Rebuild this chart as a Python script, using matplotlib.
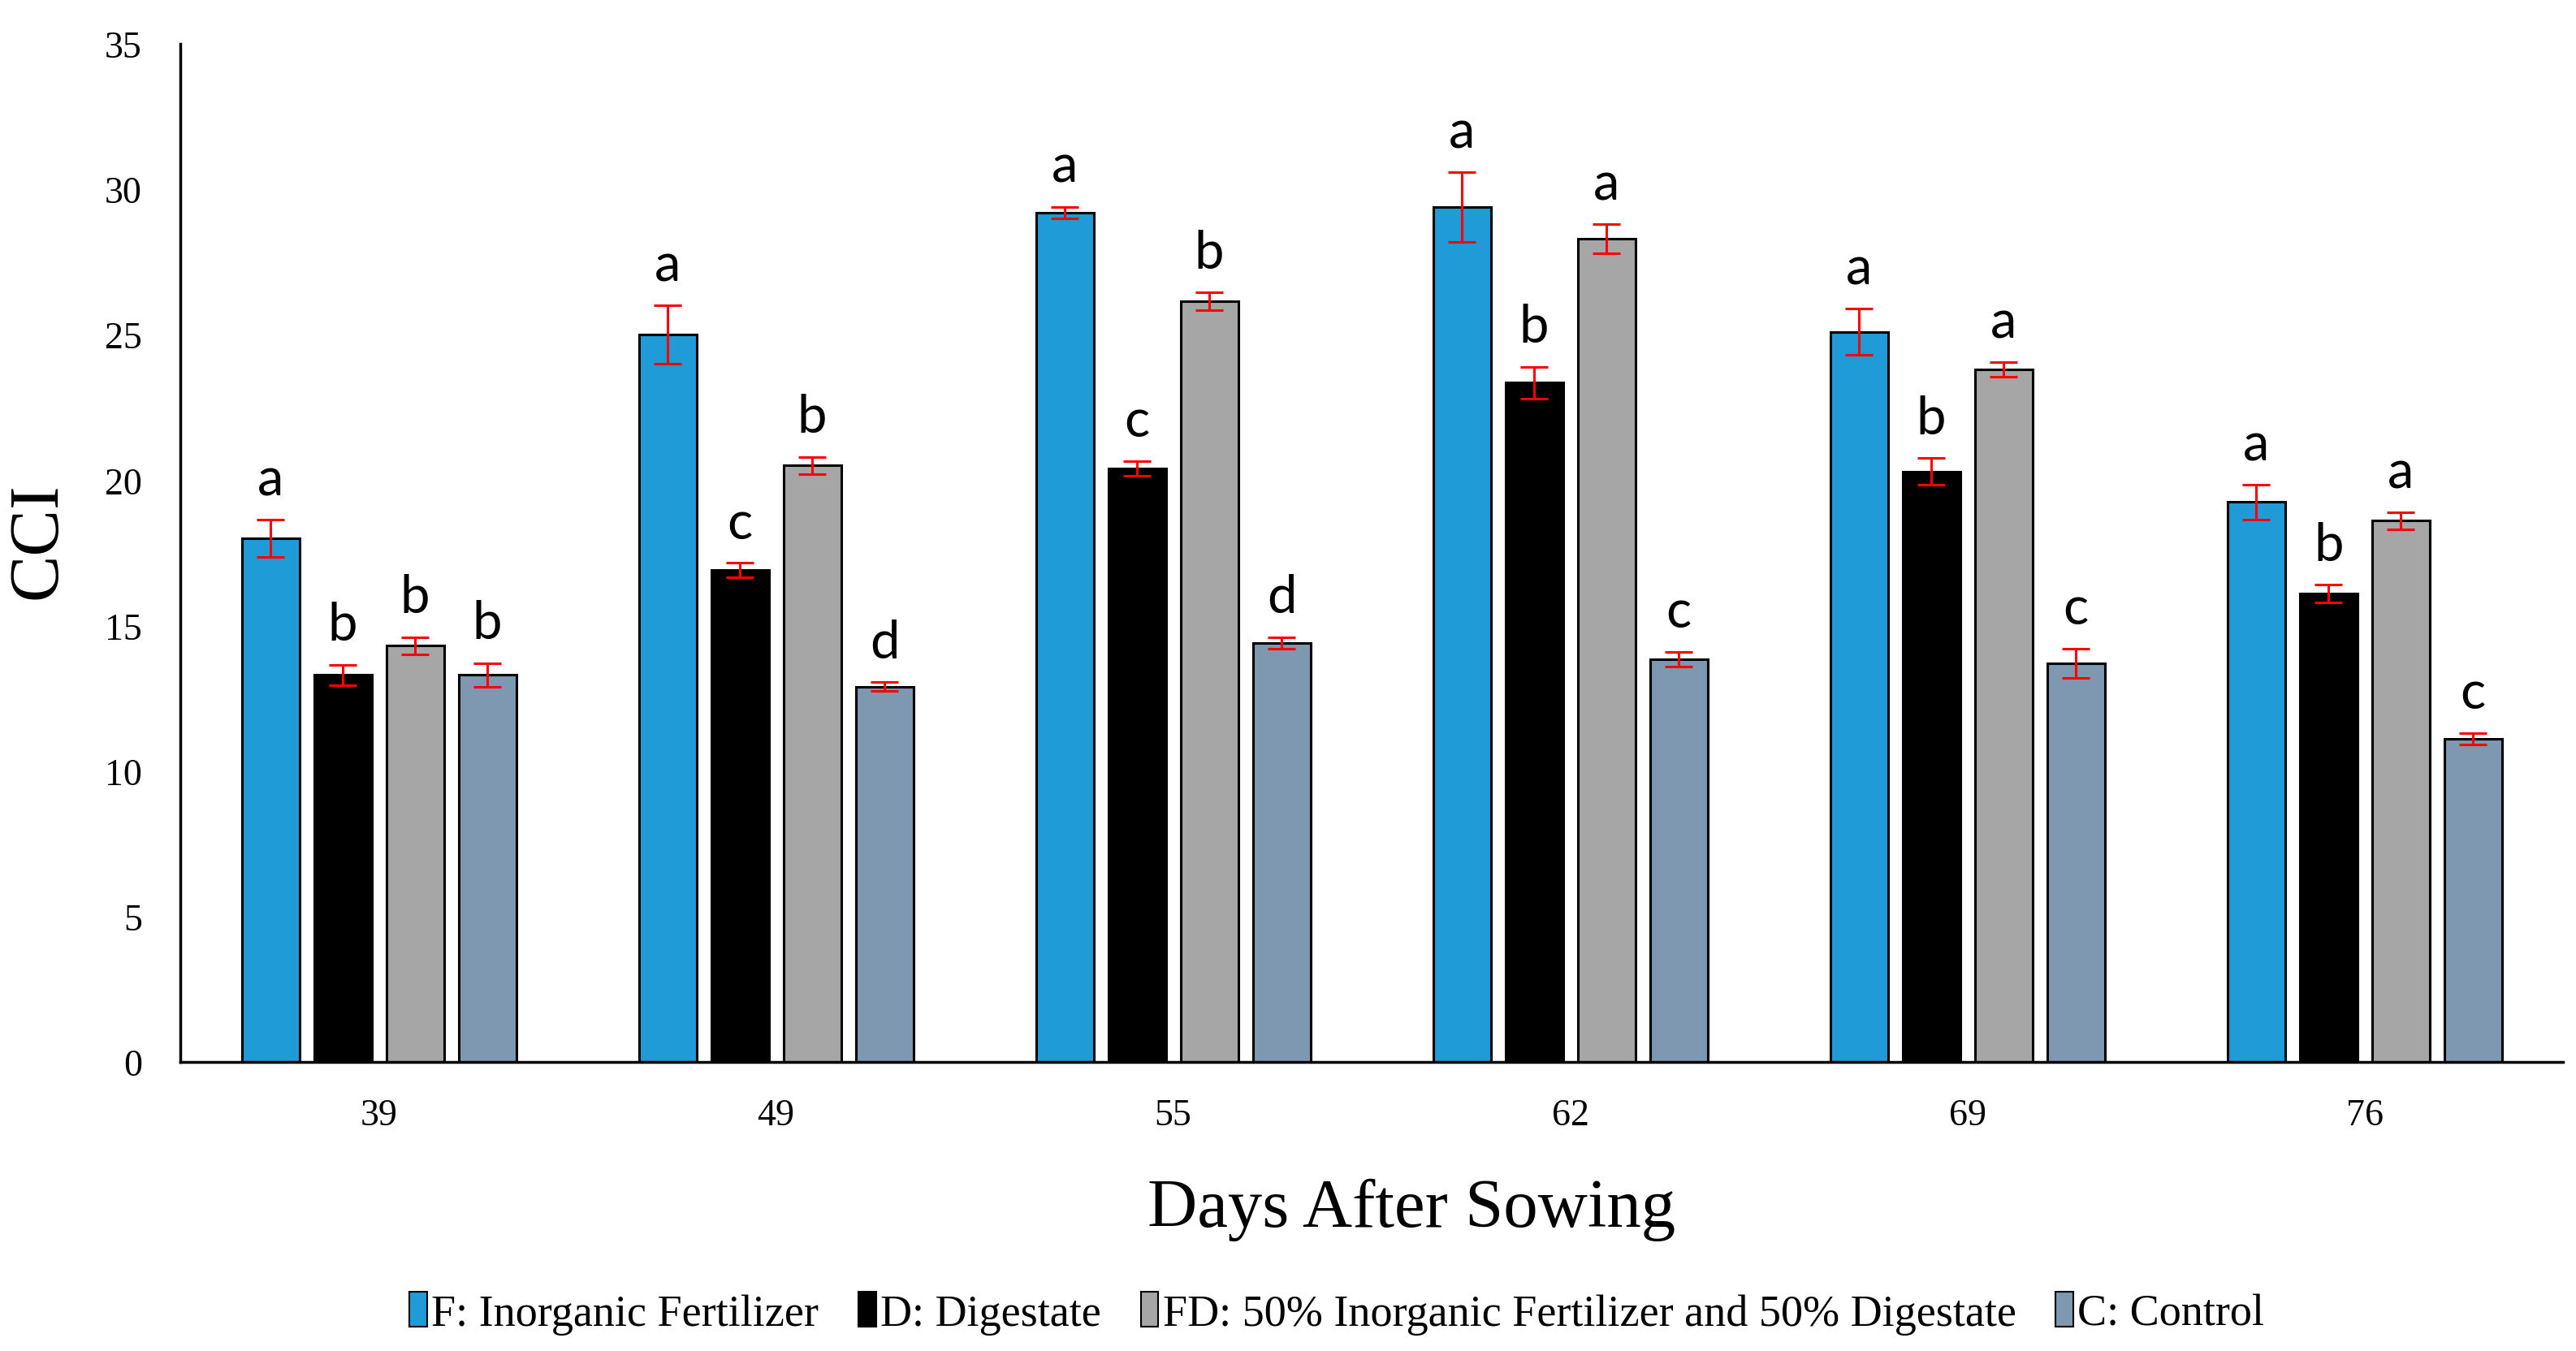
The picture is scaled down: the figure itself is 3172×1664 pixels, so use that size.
import numpy as np
import matplotlib
matplotlib.use("Agg")
import matplotlib.pyplot as plt
from matplotlib.patches import Patch

days = ["39", "49", "55", "62", "69", "76"]
series_names = ["F: Inorganic Fertilizer", "D: Digestate",
                "FD: 50% Inorganic Fertilizer and 50% Digestate", "C: Control"]
F_vals = [18.0, 25.0, 29.2, 29.4, 25.1, 19.25]
D_vals = [13.3, 16.9, 20.4, 23.35, 20.3, 16.1]
FD_vals = [14.3, 20.5, 26.15, 28.3, 23.8, 18.6]
C_vals = [13.3, 12.9, 14.4, 13.85, 13.7, 11.1]
F_err = [0.65, 1.0, 0.2, 1.2, 0.8, 0.6]
D_err = [0.35, 0.25, 0.25, 0.55, 0.45, 0.3]
FD_err = [0.3, 0.3, 0.3, 0.5, 0.25, 0.3]
C_err = [0.4, 0.15, 0.2, 0.25, 0.5, 0.2]
F_let = ["a", "a", "a", "a", "a", "a"]
D_let = ["b", "c", "c", "b", "b", "b"]
FD_let = ["b", "b", "b", "a", "a", "a"]
C_let = ["b", "d", "d", "c", "c", "c"]
colors = ["#1F9BD7", "#000000", "#A6A6A6", "#7E98B2"]

values = [F_vals, D_vals, FD_vals, C_vals]
errors = [F_err, D_err, FD_err, C_err]
letters = [F_let, D_let, FD_let, C_let]

plt.rcParams["font.family"] = ["Liberation Serif", "DejaVu Serif"]

fig = plt.figure(figsize=(31.72, 16.65), dpi=100)
ax = fig.add_axes([0.070, 0.214, 0.925, 0.753])

x = np.arange(len(days))
pitch = 0.182
width = 0.145
offsets = (np.arange(4) - 1.5) * pitch
for i in range(4):
    xs = x + offsets[i]
    ax.bar(xs, values[i], width=width, color=colors[i], edgecolor="black",
           linewidth=2.2, zorder=2)
    ax.errorbar(xs, values[i], yerr=errors[i], fmt="none", ecolor="red",
                elinewidth=2.2, capsize=12, capthick=2.2, zorder=3)
    for xi, v, e, l in zip(xs, values[i], errors[i], letters[i]):
        ax.annotate(l, (xi, v + e), xytext=(0, 22), textcoords="offset points",
                    ha="center", va="baseline", fontsize=47, family="Lato")

ax.set_xlim(-0.5, 5.5)
ax.set_ylim(0, 35)
ax.set_yticks(np.arange(0, 36, 5))
ax.set_xticks(x)
ax.set_xticklabels(days)
for s in ["top", "right"]:
    ax.spines[s].set_visible(False)
ax.spines["left"].set_linewidth(2.5)
ax.spines["bottom"].set_linewidth(2.5)
ax.tick_params(axis="both", length=0, labelsize=33)
ax.tick_params(axis="y", pad=34)
ax.tick_params(axis="x", pad=32)

fig.text(0.015, 0.600, "CCI", rotation=90, ha="center", va="center",
         fontsize=62)
fig.text(0.548, 0.105, "Days After Sowing", ha="center", va="center",
         fontsize=61)

handles = [Patch(facecolor=c, edgecolor="black", linewidth=1.5) for c in colors]
leg = fig.legend(handles, series_names, loc="center", bbox_to_anchor=(0.519, 0.028),
                 ncol=4, frameon=False, handlelength=0.4, handleheight=0.85,
                 handletextpad=0.1, columnspacing=0.9, fontsize=39)
for t in leg.get_texts():
    t.set_fontfamily(["Liberation Serif", "DejaVu Serif"])

fig.savefig("out.png", dpi=100)
